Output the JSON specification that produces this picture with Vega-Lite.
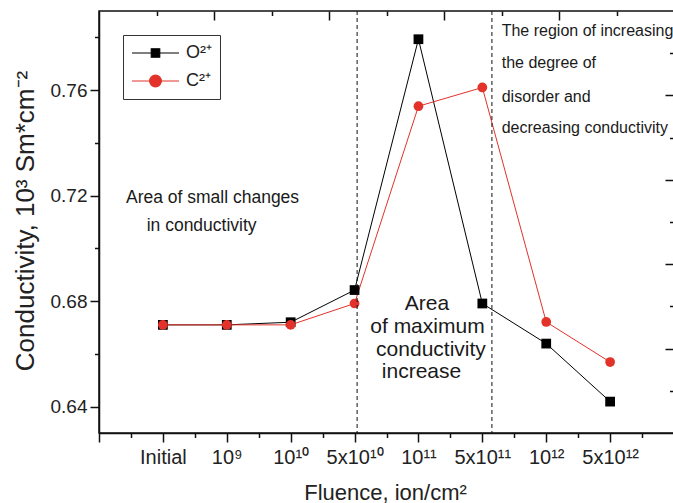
{
  "$schema": "https://vega.github.io/schema/vega-lite/v6.json",
  "width": 575,
  "height": 422,
  "autosize": {"type": "none"},
  "padding": {"left": 99, "top": 11, "right": 0, "bottom": 70},
  "background": "white",
  "config": {
    "font": "Liberation Sans",
    "view": {"stroke": "#111", "strokeWidth": 1.5},
    "axis": {"grid": false, "domainColor": "#111", "tickColor": "#111", "domainWidth": 1.5, "tickWidth": 1.5, "labelColor": "#222", "titleColor": "#222", "labelFont": "Liberation Sans", "titleFont": "Liberation Sans", "titleFontWeight": "normal"}
  },
  "datasets": {
    "conductivity": [
      {"idx": 0, "fluence": "Initial", "series": "O²⁺", "value": 0.671},
      {"idx": 1, "fluence": "10⁹", "series": "O²⁺", "value": 0.671},
      {"idx": 2, "fluence": "10¹⁰", "series": "O²⁺", "value": 0.672},
      {"idx": 3, "fluence": "5x10¹⁰", "series": "O²⁺", "value": 0.6842},
      {"idx": 4, "fluence": "10¹¹", "series": "O²⁺", "value": 0.7793},
      {"idx": 5, "fluence": "5x10¹¹", "series": "O²⁺", "value": 0.6791},
      {"idx": 6, "fluence": "10¹²", "series": "O²⁺", "value": 0.6639},
      {"idx": 7, "fluence": "5x10¹²", "series": "O²⁺", "value": 0.6419},
      {"idx": 0, "fluence": "Initial", "series": "C²⁺", "value": 0.671},
      {"idx": 1, "fluence": "10⁹", "series": "C²⁺", "value": 0.671},
      {"idx": 2, "fluence": "10¹⁰", "series": "C²⁺", "value": 0.671},
      {"idx": 3, "fluence": "5x10¹⁰", "series": "C²⁺", "value": 0.6791},
      {"idx": 4, "fluence": "10¹¹", "series": "C²⁺", "value": 0.7539},
      {"idx": 5, "fluence": "5x10¹¹", "series": "C²⁺", "value": 0.761},
      {"idx": 6, "fluence": "10¹²", "series": "C²⁺", "value": 0.6721},
      {"idx": 7, "fluence": "5x10¹²", "series": "C²⁺", "value": 0.6569}
    ],
    "notes": [
      {"text": "Area of small changes", "nx": -0.578, "ny": 0.7171, "group": "small"},
      {"text": "in conductivity", "nx": -0.254, "ny": 0.7067, "group": "small"},
      {"text": "The region of increasing", "nx": 5.303, "ny": 0.7805, "group": "region"},
      {"text": "the degree of", "nx": 5.303, "ny": 0.7683, "group": "region"},
      {"text": "disorder and", "nx": 5.303, "ny": 0.7556, "group": "region"},
      {"text": "decreasing conductivity", "nx": 5.303, "ny": 0.7436, "group": "region"},
      {"text": "Area", "nx": 4.134, "ny": 0.6766, "group": "max"},
      {"text": "of maximum", "nx": 4.141, "ny": 0.6679, "group": "max"},
      {"text": "conductivity", "nx": 4.196, "ny": 0.6592, "group": "max"},
      {"text": "increase", "nx": 4.048, "ny": 0.6509, "group": "max"}
    ],
    "dividers": [
      {"boundary": "small/maximum", "pos": 3.04},
      {"boundary": "maximum/disorder", "pos": 5.15}
    ]
  },
  "resolve": {"axis": {"x": "independent", "y": "independent"}},
  "layer": [
    {
      "data": {"name": "conductivity"},
      "mark": {"type": "line", "strokeWidth": 1},
      "encoding": {
        "x": {"field": "idx", "type": "quantitative", "scale": {"domain": [-1, 8], "nice": false, "zero": false},
          "axis": {"orient": "bottom", "values": [-1, 0, 1, 2, 3, 4, 5, 6, 7, 8], "tickSize": 9, "labelFontSize": 20, "labelPadding": 21, "labelBaseline": "alphabetic", "labelFlush": false, "labelOverlap": false,
            "labelExpr": "datum.value >= 0 && datum.value <= 7 ? ['Initial','10⁹','10¹⁰','5x10¹⁰','10¹¹','5x10¹¹','10¹²','5x10¹²'][datum.value] : ''",
            "title": "Fluence, ion/cm²", "titleFontSize": 22, "titleBaseline": "alphabetic", "titleX": 286, "titleY": 66, "titleAnchor": "middle"}},
        "y": {"field": "value", "type": "quantitative", "scale": {"domain": [0.63, 0.79], "nice": false, "zero": false},
          "axis": {"orient": "left", "values": [0.64, 0.68, 0.72, 0.76], "format": ".2f", "tickSize": 9, "labelFontSize": 19, "labelPadding": 3,
            "title": "Conductivity, 10³ Sm*cm⁻²", "titleFontSize": 26, "titleBaseline": "alphabetic", "titleX": -66, "titleY": 209.5, "titleAnchor": "middle"}},
        "color": {"field": "series", "type": "nominal", "sort": ["O²⁺", "C²⁺"],
          "scale": {"domain": ["O²⁺", "C²⁺"], "range": ["#000000", "#e2322a"]},
          "legend": {"orient": "none", "legendX": 24, "legendY": 24, "title": null, "strokeColor": "#333", "padding": 8,
            "labelFontSize": 18, "labelColor": "#222", "labelFont": "Liberation Sans", "symbolSize": 2209, "clipHeight": 20, "rowPadding": 8, "labelOffset": 6, "symbolStrokeWidth": 1.2,
            "encode": {"symbols": {"update": {
              "shape": {"signal": "datum.value == 'O²⁺' ? 'M-1,0H1M-0.18,-0.18H0.18V0.18H-0.18Z' : 'M-1,0H1M0.25,0A0.25,0.25,0,1,1,-0.25,0A0.25,0.25,0,1,1,0.25,0Z'"},
              "fill": {"scale": "color", "field": "value"},
              "stroke": {"scale": "color", "field": "value"},
              "opacity": {"value": 1}
            }}}}}
      }
    },
    {
      "data": {"name": "conductivity"},
      "transform": [{"filter": "datum.series == 'O²⁺'"}],
      "mark": {"type": "point", "shape": "square", "filled": true, "size": 95, "color": "#000", "opacity": 1},
      "encoding": {
        "x": {"field": "idx", "type": "quantitative", "axis": {"orient": "bottom", "values": [-0.5, 0.5, 1.5, 2.5, 3.5, 4.5, 5.5, 6.5, 7.5], "tickSize": 4.5, "labels": false, "domain": false, "title": null}},
        "y": {"field": "value", "type": "quantitative", "axis": {"orient": "left", "values": [0.66, 0.7, 0.74, 0.78], "tickSize": 4.5, "labels": false, "domain": false, "title": null}}
      }
    },
    {
      "data": {"name": "conductivity"},
      "transform": [{"filter": "datum.series == 'C²⁺'"}],
      "mark": {"type": "point", "shape": "circle", "filled": true, "size": 95, "color": "#e2322a", "opacity": 1},
      "encoding": {
        "x": {"field": "idx", "type": "quantitative", "axis": {"orient": "top", "values": [-0.1, 1.7, 3.5, 5.3, 7.1], "offset": -4.5, "tickSize": 4.5, "labels": false, "domain": false, "title": null}},
        "y": {"field": "value", "type": "quantitative", "axis": {"orient": "right", "values": [0.774, 0.742, 0.71, 0.678, 0.646], "tickSize": -4.5, "labels": false, "domain": true, "title": null}}
      }
    },
    {
      "data": {"name": "dividers"},
      "mark": {"type": "rule", "strokeWidth": 1, "strokeDash": [4, 3], "color": "#111"},
      "encoding": {
        "x": {"field": "pos", "type": "quantitative", "axis": {"orient": "top", "values": [0.8, 2.6, 4.4, 6.2], "offset": -9, "tickSize": 9, "labels": false, "domain": false, "title": null}}
      }
    },
    {
      "data": {"name": "notes"},
      "transform": [{"filter": "datum.group == 'small'"}],
      "mark": {"type": "text", "align": "left", "baseline": "alphabetic", "fontSize": 17.5, "color": "#1a1a1a"},
      "encoding": {
        "x": {"field": "nx", "type": "quantitative", "axis": null},
        "y": {"field": "ny", "type": "quantitative", "axis": {"orient": "right", "values": [0.758, 0.726, 0.694, 0.662], "tickSize": -9, "labels": false, "domain": false, "title": null}},
        "text": {"field": "text"}
      }
    },
    {
      "data": {"name": "notes"},
      "transform": [{"filter": "datum.group == 'region'"}],
      "mark": {"type": "text", "align": "left", "baseline": "alphabetic", "fontSize": 16, "color": "#1a1a1a"},
      "encoding": {
        "x": {"field": "nx", "type": "quantitative", "axis": null},
        "y": {"field": "ny", "type": "quantitative", "axis": null},
        "text": {"field": "text"}
      }
    },
    {
      "data": {"name": "notes"},
      "transform": [{"filter": "datum.group == 'max'"}],
      "mark": {"type": "text", "align": "center", "baseline": "alphabetic", "fontSize": 21, "color": "#1a1a1a"},
      "encoding": {
        "x": {"field": "nx", "type": "quantitative", "axis": null},
        "y": {"field": "ny", "type": "quantitative", "axis": null},
        "text": {"field": "text"}
      }
    }
  ]
}
